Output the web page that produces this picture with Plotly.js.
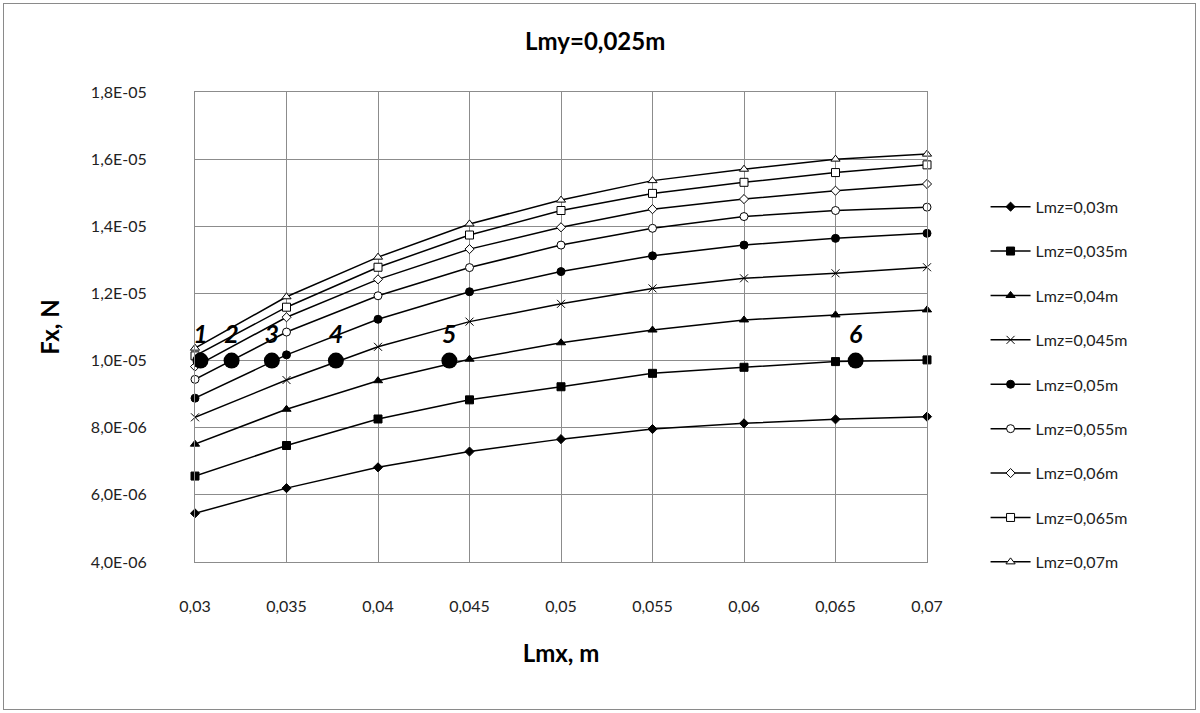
<!DOCTYPE html>
<html>
<head>
<meta charset="utf-8">
<script src="https://cdn.plot.ly/plotly-3.0.1.min.js"></script>
<style>
  html, body { margin: 0; padding: 0; background: #fff; }
  #wrap { position: relative; width: 1200px; height: 713px; }
  #chart { width: 1200px; height: 713px; }
  #frame { position: absolute; left: 3px; top: 3px; width: 1191px; height: 705px; border: 1px solid #8a8a8a; pointer-events: none; }
</style>
</head>
<body>
<div id="wrap"><div id="chart"></div><div id="frame"></div></div>
<script>
// Lmx values (x axis), m
const lmx = [0.03, 0.035, 0.04, 0.045, 0.05, 0.055, 0.06, 0.065, 0.07];
const xTickLabels = ["0,03","0,035","0,04","0,045","0,05","0,055","0,06","0,065","0,07"];
const yTickVals = [4e-6, 6e-6, 8e-6, 1e-5, 1.2e-5, 1.4e-5, 1.6e-5, 1.8e-5];
const yTickLabels = ["4,0E-06","6,0E-06","8,0E-06","1,0E-05","1,2E-05","1,4E-05","1,6E-05","1,8E-05"];

// Fx, N for each Lmz
const seriesNames = ["Lmz=0,03m","Lmz=0,035m","Lmz=0,04m","Lmz=0,045m","Lmz=0,05m","Lmz=0,055m","Lmz=0,06m","Lmz=0,065m","Lmz=0,07m"];
const lmz030 = [5.45e-6, 6.20e-6, 6.82e-6, 7.29e-6, 7.66e-6, 7.96e-6, 8.13e-6, 8.25e-6, 8.33e-6];
const lmz035 = [6.56e-6, 7.47e-6, 8.26e-6, 8.83e-6, 9.22e-6, 9.62e-6, 9.80e-6, 9.97e-6, 10.02e-6];
const lmz040 = [7.51e-6, 8.55e-6, 9.40e-6, 10.04e-6, 10.53e-6, 10.91e-6, 11.21e-6, 11.36e-6, 11.51e-6];
const lmz045 = [8.31e-6, 9.42e-6, 10.41e-6, 11.16e-6, 11.69e-6, 12.15e-6, 12.45e-6, 12.60e-6, 12.78e-6];
const lmz050 = [8.88e-6, 10.17e-6, 11.23e-6, 12.05e-6, 12.65e-6, 13.12e-6, 13.44e-6, 13.64e-6, 13.79e-6];
const lmz055 = [9.44e-6, 10.85e-6, 11.93e-6, 12.77e-6, 13.44e-6, 13.94e-6, 14.29e-6, 14.47e-6, 14.57e-6];
const lmz060 = [9.82e-6, 11.29e-6, 12.42e-6, 13.32e-6, 13.97e-6, 14.51e-6, 14.81e-6, 15.06e-6, 15.26e-6];
const lmz065 = [10.14e-6, 11.59e-6, 12.78e-6, 13.74e-6, 14.47e-6, 14.98e-6, 15.31e-6, 15.60e-6, 15.83e-6];
const lmz070 = [10.37e-6, 11.90e-6, 13.08e-6, 14.07e-6, 14.78e-6, 15.36e-6, 15.70e-6, 16.00e-6, 16.15e-6];

// Numbered points at Fx = 1,0E-05
const pointLabels = ["1","2","3","4","5","6"];
const pointX = [0.0303, 0.0320, 0.0342, 0.0377, 0.0439, 0.0661];
const pointY = [1e-5, 1e-5, 1e-5, 1e-5, 1e-5, 1e-5];

const allSeries = [lmz030, lmz035, lmz040, lmz045, lmz050, lmz055, lmz060, lmz065, lmz070];
const markerStyles = [
  {symbol: "diamond", size: 7, color: "#000", line: {color: "#000", width: 1}},
  {symbol: "square", size: 8, color: "#000", line: {color: "#000", width: 1}},
  {symbol: "triangle-up", size: 8, color: "#000", line: {color: "#000", width: 1}},
  {symbol: "x-thin-open", size: 8, color: "#000", line: {color: "#000", width: 1}},
  {symbol: "circle", size: 8, color: "#000", line: {color: "#000", width: 1}},
  {symbol: "circle", size: 8, color: "#fff", line: {color: "#000", width: 1}},
  {symbol: "diamond", size: 7, color: "#fff", line: {color: "#000", width: 1}},
  {symbol: "square", size: 8, color: "#fff", line: {color: "#000", width: 1}},
  {symbol: "triangle-up", size: 8, color: "#fff", line: {color: "#000", width: 1}}
];

const FONT = "Lato, 'Open Sans', 'Liberation Sans', sans-serif";

const traces = allSeries.map((ys, i) => ({
  x: lmx,
  y: ys,
  name: seriesNames[i],
  type: "scatter",
  mode: "lines+markers",
  line: {color: "#000", width: 1.5},
  marker: markerStyles[i],
  legendgroup: "g" + i,
  cliponaxis: false
}));

traces.push({
  x: pointX,
  y: pointY,
  text: pointLabels,
  type: "scatter",
  mode: "markers+text",
  textposition: "top center",
  textfont: {family: FONT, size: 25, color: "#000", weight: "bold", style: "italic"},
  marker: {symbol: "circle", size: 16, color: "#000"},
  showlegend: false,
  cliponaxis: false
});

const layout = {
  width: 1200,
  height: 713,
  paper_bgcolor: "#fff",
  plot_bgcolor: "#fff",
  margin: {l: 195, r: 273, t: 92, b: 151},
  font: {family: FONT, color: "#222"},
  title: {
    text: "<b>Lmy=0,025m</b>",
    font: {family: FONT, size: 24, color: "#000"},
    x: 0.496, xref: "container", xanchor: "center",
    y: 1 - 42 / 713, yref: "container", yanchor: "middle"
  },
  xaxis: {
    range: [0.03, 0.07],
    tickvals: lmx,
    ticktext: xTickLabels,
    tickfont: {family: FONT, size: 16, color: "#222"},
    ticks: "",
    ticklabelstandoff: 30,
    showgrid: true,
    gridcolor: "#8c8c8c",
    gridwidth: 1,
    showline: true,
    linecolor: "#8c8c8c",
    linewidth: 1,
    mirror: true,
    zeroline: false,
    title: {text: "<b>Lmx, m</b>", font: {family: FONT, size: 24, color: "#000"}, standoff: 30}
  },
  yaxis: {
    range: [4e-6, 1.8e-5],
    tickvals: yTickVals,
    ticktext: yTickLabels,
    tickfont: {family: FONT, size: 16, color: "#222"},
    ticks: "",
    ticklabelstandoff: 44,
    showgrid: true,
    gridcolor: "#8c8c8c",
    gridwidth: 1,
    showline: true,
    linecolor: "#8c8c8c",
    linewidth: 1,
    mirror: true,
    zeroline: false,
    title: {text: "<b>Fx, N</b>", font: {family: FONT, size: 24, color: "#000"}, standoff: 24}
  },
  legend: {
    x: 1.08, xanchor: "left",
    y: 0.792, yanchor: "top",
    font: {family: FONT, size: 16, color: "#222"},
    traceorder: "grouped",
    tracegroupgap: 20.6,
    bgcolor: "rgba(0,0,0,0)",
    itemwidth: 40
  },
  showlegend: true
};

Plotly.newPlot("chart", traces, layout, {displayModeBar: false, staticPlot: true});
</script>
</body>
</html>
